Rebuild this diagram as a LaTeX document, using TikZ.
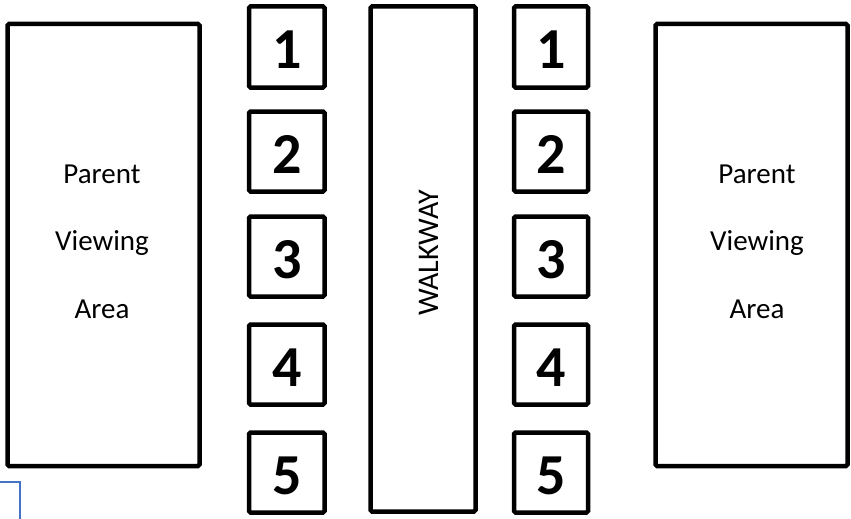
\documentclass[tikz,border=0pt]{standalone}
\usepackage{fontspec}
\setmainfont{Carlito}
\definecolor{wordblue}{RGB}{68,114,196}
\begin{document}
\begin{tikzpicture}[x=1pt,y=-1pt,
  box/.style={draw=black,line width=4.5pt,rounded corners=1.5pt},
  areatext/.style={font=\fontsize{29}{32}\selectfont,anchor=base,inner sep=0pt},
  numtext/.style={font=\fontsize{58}{60}\selectfont\bfseries,anchor=base,inner sep=0pt},
  walktext/.style={font=\fontsize{30}{32}\selectfont,rotate=90,inner sep=0pt}]
\useasboundingbox (0,0) rectangle (851,519);
% parent viewing areas
\draw[box] (7.5,24) rectangle (199.5,466);
\draw[box] (655.5,24) rectangle (847.5,466);
\node[areatext] (pl1) at (102,183) {Parent};
\node[areatext] (pl2) at (102,250) {Viewing};
\node[areatext] (pl3) at (102,318) {Area};
\node[areatext] (pr1) at (757,183) {Parent};
\node[areatext] (pr2) at (757,250) {Viewing};
\node[areatext] (pr3) at (757,318) {Area};
% walkway
\draw[box] (370.5,6.5) rectangle (475.5,511.5);
\node[walktext] (walk) at (429,253) {WALKWAY};
% numbered boxes
\foreach \i/\t/\b in {1/6.5/87.5,2/111.5/191.5,3/216.5/296.5,4/324.5/404.5,5/432.5/512.5}{
  \draw[box] (249,\t) rectangle (324.5,\b);
  \draw[box] (514,\t) rectangle (588,\b);
  \node[numtext] (l\i) at (287,{(\t+\b)/2+22}) {\i};
  \node[numtext] (r\i) at (551,{(\t+\b)/2+22}) {\i};
}
% blue corner
\coordinate (c0) at (0,482);
\coordinate (c1) at (20,482);
\coordinate (c2) at (20,519);
\draw[wordblue,line width=2pt] (c0) -- (c1) -- (c2);
\end{tikzpicture}
\end{document}
